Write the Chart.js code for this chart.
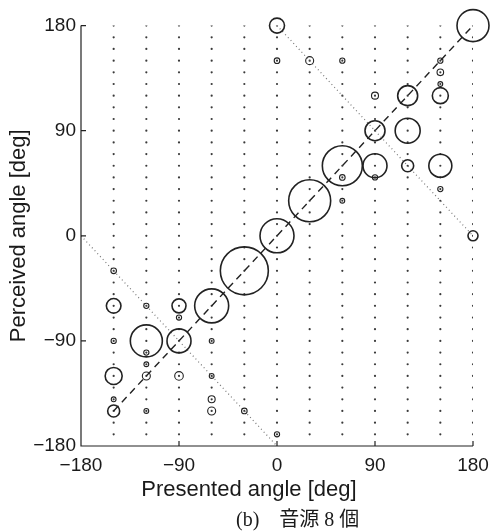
<!DOCTYPE html>
<html><head><meta charset="utf-8">
<script src="https://cdn.jsdelivr.net/npm/chart.js@4/dist/chart.umd.min.js"></script>
<style>html,body{margin:0;padding:0;background:#fff}#wrap{width:500px;height:531px}</style>
</head><body><div id="wrap"><canvas id="c" width="500" height="531"></canvas></div>
<script>
// Response grid (presented x perceived)
const presentedAngles = [-150,-120,-90,-60,-30,0,30,60,90,120,150,180];
const perceivedAngles = [-170,-160,-150,-140,-130,-120,-110,-100,-90,-80,-70,-60,-50,-40,-30,-20,-10,0,
                         10,20,30,40,50,60,70,80,90,100,110,120,130,140,150,160,170,180];
// Response bubbles
const bubblePresented = [-150,-150,-150,-150,-150,-150,
                         -120,-120,-120,-120,-120,-120,
                         -90,-90,-90,-90,
                         -60,-60,-60,-60,-60,
                         -30,-30,
                         0,0,0,0,
                         30,30,
                         60,60,60,60,
                         90,90,90,90,
                         120,120,120,
                         150,150,150,150,150,150,
                         180,180];
const bubblePerceived = [-30,-60,-90,-120,-140,-150,
                         -60,-90,-100,-110,-120,-150,
                         -60,-70,-90,-120,
                         -60,-90,-120,-140,-150,
                         -30,-150,
                         180,150,0,-170,
                         150,30,
                         150,60,50,30,
                         120,90,60,50,
                         120,90,60,
                         150,140,130,120,60,40,
                         180,0];
const bubbleSize = [2.8,7.3,2.6,8.5,2.4,6,
                    2.6,16,2.6,2.4,4,2.4,
                    7,2.6,12,4.3,
                    17,2.4,2.4,3.5,4,
                    24,2.8,
                    7.5,2.8,17,2.6,
                    4,21,
                    2.6,20,2.8,2.4,
                    3.5,10,12,2.6,
                    10,12.5,6,
                    2.6,3.3,2.4,8,11.5,2.6,
                    16,5];
// Reference lines
const diagonalX = [-150,180];
const confusionUpperX = [0,180];
const confusionUpperY = [180,0];
const confusionLowerX = [-180,0];
const confusionLowerY = [0,-180];
// Axes
const tickValues = [-180,-90,0,90,180];
const tickLabels = ['\u2212180','\u221290','0','90','180'];
const xTitle = 'Presented angle [deg]';
const yTitle = 'Perceived angle [deg]';
const caption = '(b)\u3000音源 8 個';

const gridPts = [];
presentedAngles.forEach(px => perceivedAngles.forEach(py => gridPts.push({x:px,y:py})));
const bubbles = bubblePresented.map((p,i)=>({x:p,y:bubblePerceived[i],r:bubbleSize[i]}));

const SANS = '"Liberation Sans", Arial, sans-serif';
const ink = '#222';

const axisPlugin = {
  id:'axesInward',
  afterDraw(chart){
    const ctx = chart.ctx, xs = chart.scales.x, ys = chart.scales.y;
    ctx.save();
    ctx.strokeStyle = ink; ctx.lineWidth = 1.2;
    ctx.beginPath();
    ctx.moveTo(xs.left, ys.top); ctx.lineTo(xs.left, ys.bottom); ctx.lineTo(xs.right, ys.bottom);
    xs.ticks.forEach(t=>{const p=xs.getPixelForValue(t.value); ctx.moveTo(p,ys.bottom); ctx.lineTo(p,ys.bottom-5);});
    ys.ticks.forEach(t=>{const p=ys.getPixelForValue(t.value); ctx.moveTo(xs.left,p); ctx.lineTo(xs.left+5,p);});
    ctx.stroke();
    ctx.fillStyle = '#1a1a1a';
    ctx.textBaseline = 'middle'; ctx.textAlign = 'center';
    ctx.font = '22px ' + SANS;
    ctx.fillText(xTitle, 249, 490);
    ctx.font = '20px "Liberation Serif", "Noto Sans CJK JP", serif';
    ctx.textAlign = 'left';
    ctx.fillText(caption, 236, 521);
    ctx.restore();
  }
};

function fixTicks(scale){ scale.ticks = tickValues.map(v=>({value:v})); }

new Chart(document.getElementById('c'), {
  type:'scatter',
  data:{ datasets:[
    {type:'scatter', data:gridPts, pointRadius:1.1, pointHoverRadius:1.1, backgroundColor:'#3a3a3a', borderWidth:0, order:5},
    {type:'line', data:diagonalX.map(v=>({x:v,y:v})), borderColor:ink, borderWidth:1.4, borderDash:[7,5], pointRadius:0, fill:false, order:4},
    {type:'line', data:confusionUpperX.map((v,i)=>({x:v,y:confusionUpperY[i]})), borderColor:'#777', borderWidth:1.2, borderDash:[1,3], pointRadius:0, fill:false, order:3},
    {type:'line', data:confusionLowerX.map((v,i)=>({x:v,y:confusionLowerY[i]})), borderColor:'#777', borderWidth:1.2, borderDash:[1,3], pointRadius:0, fill:false, order:3},
    {type:'bubble', data:bubbles, backgroundColor:'rgba(0,0,0,0)', borderColor:ink,
     borderWidth:(c)=> (c.raw && c.raw.r < 5) ? 1.1 : 1.6, clip:false, order:1}
  ]},
  options:{
    responsive:false, animation:false, devicePixelRatio:1,
    layout:{padding:{top:25, right:27, left:0, bottom:25}},
    plugins:{legend:{display:false}, tooltip:{enabled:false}, title:{display:false}},
    scales:{
      x:{type:'linear', min:-180, max:180, afterBuildTicks:fixTicks,
         afterFit(s){ s.height = 60; },
         grid:{display:false, drawTicks:false}, border:{display:false},
         ticks:{padding:8, color:'#1a1a1a', font:{family:SANS, size:19}, maxRotation:0,
                callback:(v)=>tickLabels[tickValues.indexOf(v)]},
         title:{display:false}},
      y:{type:'linear', min:-180, max:180, afterBuildTicks:fixTicks,
         afterFit(s){ s.width = 81; },
         grid:{display:false, drawTicks:false}, border:{display:false},
         ticks:{padding:5, color:'#1a1a1a', font:{family:SANS, size:19},
                callback:(v)=>tickLabels[tickValues.indexOf(v)]},
         title:{display:true, text:yTitle, color:'#1a1a1a', font:{family:SANS, size:22}, padding:{top:6,bottom:0}}}
    }
  },
  plugins:[axisPlugin]
});
</script></body></html>
